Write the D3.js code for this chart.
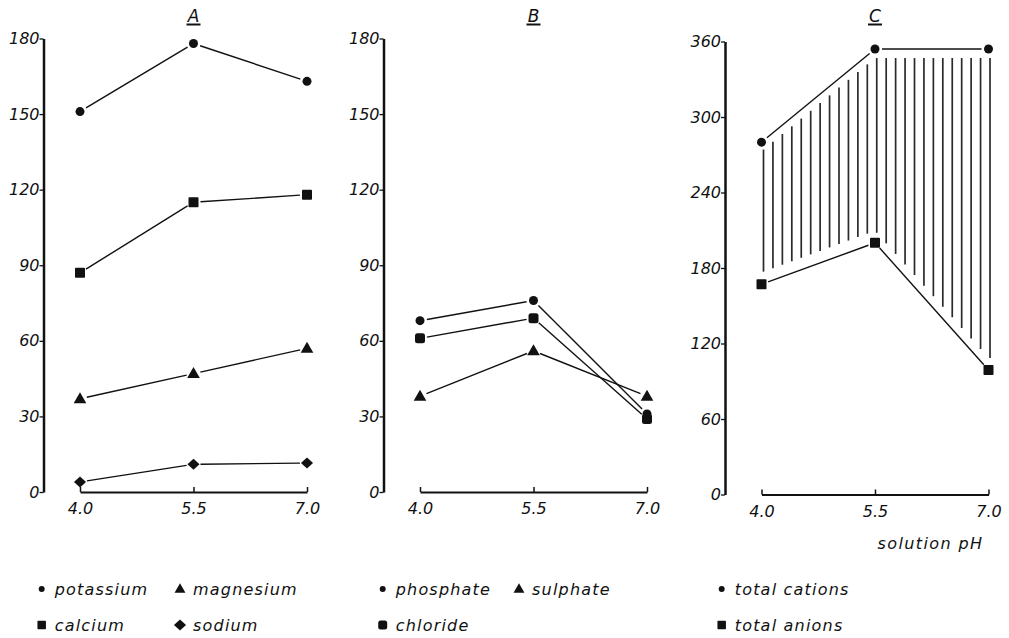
<!DOCTYPE html>
<html>
<head>
<meta charset="utf-8">
<script src="https://cdn.jsdelivr.net/npm/d3@7"></script>
<style>
  body { margin: 0; background: #fff; }
  text { font-family: "DejaVu Sans", sans-serif; font-style: italic; fill: #111; }
</style>
</head>
<body>
<svg id="chart" width="1009" height="638"></svg>
<script>
// data (values vs solution pH)
const pH = [4.0, 5.5, 7.0];
const pHLabels = ['4.0', '5.5', '7.0'];

const potassium = [151, 178, 163];
const calcium = [87, 115, 118];
const magnesium = [37, 47, 57];
const sodium = [4, 11, 11.5];

const phosphate = [68, 76, 31];
const chloride = [61, 69, 29];
const sulphate = [38, 56, 38];

const totalCations = [280, 354, 354];
const totalAnions = [167, 200, 99];

const ticksAB = [0, 30, 60, 90, 120, 150, 180];
const ticksC = [0, 60, 120, 180, 240, 300, 360];

const titles = ['A', 'B', 'C'];
const xTitle = 'solution pH';

const legendA = [['potassium', 'circle'], ['magnesium', 'triangle'], ['calcium', 'square'], ['sodium', 'diamond']];
const legendB = [['phosphate', 'circle'], ['sulphate', 'triangle'], ['chloride', 'rsquare']];
const legendC = [['total cations', 'circle'], ['total anions', 'square']];

const svg = d3.select('#chart');

const panels = [
  { title: titles[0], left: 43.5, top: 38.5, bottom: 492, yMax: 180, ticks: ticksAB,
    series: [[potassium, 'circle'], [calcium, 'square'], [magnesium, 'triangle'], [sodium, 'diamond']] },
  { title: titles[1], left: 383.5, top: 38.5, bottom: 492, yMax: 180, ticks: ticksAB,
    series: [[phosphate, 'circle'], [chloride, 'rsquare'], [sulphate, 'triangle']] },
  { title: titles[2], left: 725, top: 41.5, bottom: 494.5, yMax: 360, ticks: ticksC,
    series: [[totalCations, 'circle'], [totalAnions, 'square']] }
];

function drawMarker(g, shape, cx, cy, s) {
  if (shape === 'circle') {
    g.append('circle').attr('cx', cx).attr('cy', cy).attr('r', s / 2).attr('fill', '#111');
  } else if (shape === 'square' || shape === 'rsquare') {
    g.append('rect')
      .attr('x', cx - s / 2).attr('y', cy - s / 2)
      .attr('width', s).attr('height', s)
      .attr('rx', shape === 'rsquare' ? 2.5 : 0.8)
      .attr('fill', '#111');
  } else if (shape === 'triangle') {
    const w = s * 1.15, h = s;
    g.append('path')
      .attr('d', `M${cx},${cy - h * 0.6}L${cx + w / 2},${cy + h * 0.4}L${cx - w / 2},${cy + h * 0.4}Z`)
      .attr('fill', '#111');
  } else if (shape === 'diamond') {
    const w = s * 1.1, h = s;
    g.append('path')
      .attr('d', `M${cx},${cy - h / 2}L${cx + w / 2},${cy}L${cx},${cy + h / 2}L${cx - w / 2},${cy}Z`)
      .attr('fill', '#111');
  }
}

const markerSize = { circle: 9, square: 10, rsquare: 10, triangle: 11, diamond: 11 };

// line pieces stop a few px short of the markers, like the drawing
function trimmedSegments(pts, gap) {
  const segs = [];
  for (let i = 0; i < pts.length - 1; i++) {
    const [x1, y1] = pts[i];
    const [x2, y2] = pts[i + 1];
    const len = Math.hypot(x2 - x1, y2 - y1);
    const ux = (x2 - x1) / len, uy = (y2 - y1) / len;
    segs.push([x1 + ux * gap, y1 + uy * gap, x2 - ux * gap, y2 - uy * gap]);
  }
  return segs;
}

panels.forEach((p, pi) => {
  const g = svg.append('g');

  const x = d3.scaleLinear().domain([4.0, 7.0]).range([p.left + 36.5, p.left + 263.5]);
  const y = d3.scaleLinear().domain([0, p.yMax]).range([p.bottom, p.top]);

  // hatching between total cations and total anions (panel C)
  if (pi === 2) {
    const upper = d3.scaleLinear().domain(pH.map(x)).range(totalCations.map(y)).clamp(true);
    const lower = d3.scaleLinear().domain(pH.map(x)).range(totalAnions.map(y)).clamp(true);
    const x0 = x(4.0) + 2, x1 = x(7.0) + 1.5;
    const hatchX = d3.range(25).map(i => x0 + i * (x1 - x0) / 24);
    g.selectAll('.hatch')
      .data(hatchX)
      .enter()
      .append('line')
      .attr('class', 'hatch')
      .attr('x1', d => d).attr('x2', d => d)
      .attr('y1', d => upper(d) + 9)
      .attr('y2', d => lower(d) - 12)
      .attr('stroke', '#2a2a2a')
      .attr('stroke-width', 1.7);
  }

  // y axis
  const yAxis = d3.axisLeft(y)
    .tickValues(p.ticks)
    .tickSizeInner(4)
    .tickSizeOuter(0)
    .tickPadding(0)
    .tickFormat(d3.format('d'));
  const ya = g.append('g').attr('transform', `translate(${p.left},0)`).call(yAxis);
  ya.select('.domain').attr('stroke', '#111').attr('stroke-width', 2.5);
  ya.selectAll('.tick line').attr('stroke', '#111').attr('stroke-width', 1.3);
  ya.selectAll('.tick text')
    .attr('font-size', 16)
    .attr('font-family', '"DejaVu Sans", sans-serif')
    .attr('font-style', 'italic')
    .attr('fill', '#111');

  // x axis: starts at pH 4.0, ticks pointing up
  const xAxis = d3.axisBottom(x)
    .tickValues(pH)
    .tickSizeInner(-5)
    .tickSizeOuter(0)
    .tickPadding(11)
    .tickFormat((d, i) => pHLabels[i]);
  const xa = g.append('g').attr('transform', `translate(0,${p.bottom})`).call(xAxis);
  xa.select('.domain').attr('stroke', '#111').attr('stroke-width', 2);
  xa.selectAll('.tick line').attr('stroke', '#111').attr('stroke-width', 1.5);
  xa.selectAll('.tick text')
    .attr('font-size', 16)
    .attr('font-family', '"DejaVu Sans", sans-serif')
    .attr('font-style', 'italic')
    .attr('fill', '#111');

  // panel letter, underlined
  g.append('text')
    .attr('x', x(5.5)).attr('y', 22)
    .attr('text-anchor', 'middle')
    .attr('font-size', 17)
    .text(p.title);
  g.append('line')
    .attr('x1', x(5.5) - 7).attr('x2', x(5.5) + 7)
    .attr('y1', 24.5).attr('y2', 24.5)
    .attr('stroke', '#111').attr('stroke-width', 2);

  // series
  p.series.forEach(([values, shape]) => {
    const pts = values.map((v, i) => [x(pH[i]), y(v)]);
    g.selectAll(null)
      .data(trimmedSegments(pts, 7))
      .enter()
      .append('line')
      .attr('x1', d => d[0]).attr('y1', d => d[1])
      .attr('x2', d => d[2]).attr('y2', d => d[3])
      .attr('stroke', '#111')
      .attr('stroke-width', 1.4);
    pts.forEach(([cx, cy]) => drawMarker(g, shape, cx, cy, markerSize[shape]));
  });

  if (pi === 2) {
    g.append('text')
      .attr('x', x(7.0) - 5).attr('y', 549)
      .attr('text-anchor', 'end')
      .attr('font-size', 16)
      .attr('letter-spacing', 1.4)
      .text(xTitle);
  }
});

// legend
const legendSlots = [
  { items: legendA, cols: [41.7, 180] },
  { items: legendB, cols: [382.7, 519] },
  { items: legendC, cols: [721.7, 721.7] }
];
const rowMarkerY = [589, 625];
const rowTextY = [595, 631];
const legendMarkerSize = { circle: 6, square: 8.5, rsquare: 9, triangle: 9.5, diamond: 11 };

const lg = svg.append('g');
legendSlots.forEach(slot => {
  slot.items.forEach(([label, shape], i) => {
    let col, row;
    if (slot.items.length === 2) { col = 0; row = i; }
    else if (slot.items.length === 3) { col = i === 1 ? 1 : 0; row = i === 2 ? 1 : 0; }
    else { col = i % 2; row = Math.floor(i / 2); }
    const mx = slot.cols[col];
    drawMarker(lg, shape, mx, rowMarkerY[row], legendMarkerSize[shape]);
    lg.append('text')
      .attr('x', mx + 13).attr('y', rowTextY[row])
      .attr('font-size', 16)
      .attr('letter-spacing', 1.2)
      .text(label);
  });
});
</script>
</body>
</html>
